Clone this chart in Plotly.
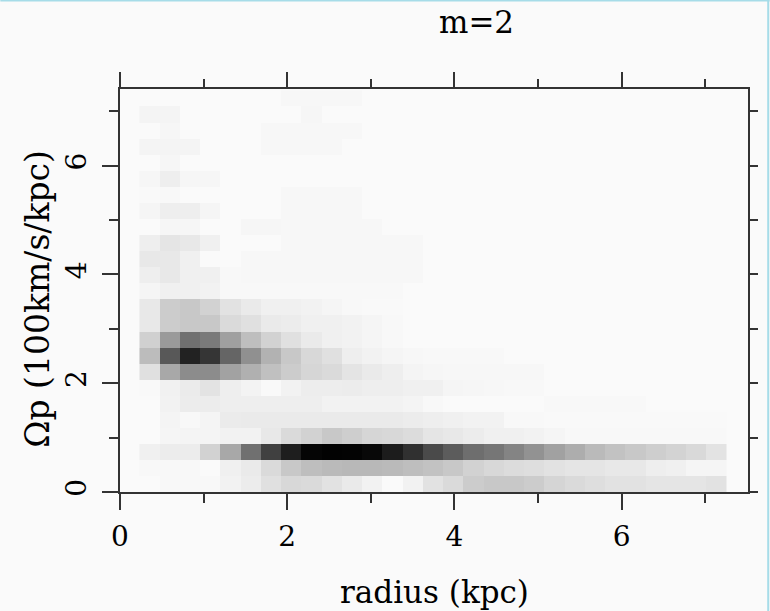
import plotly.graph_objects as go

# Heatmap grid: darkness (0 = background, 250 = black) per bin
# radius bins: 29 columns, first bin left edge ~0.233 kpc, width ~0.242 kpc
# pattern-speed bins: 25 rows from 0, height ~0.2954 (100 km/s/kpc)
radius_first_center = 0.354
radius_bin_width = 0.2421
omega_first_center = 0.1477
omega_bin_height = 0.2954

row_00 = [0, 2, 2, 2, 8, 14, 26, 34, 32, 24, 16, 8, 0, 8, 24, 32, 46, 50, 50, 46, 37, 32, 28, 24, 24, 21, 21, 21, 24]
row_01 = [2, 2, 2, 0, 10, 16, 32, 50, 60, 64, 66, 66, 64, 60, 56, 50, 40, 34, 30, 28, 24, 21, 21, 18, 18, 12, 10, 5, 5]
row_02 = [10, 14, 14, 40, 82, 138, 186, 220, 245, 248, 247, 242, 222, 202, 176, 158, 140, 132, 118, 104, 89, 77, 64, 56, 50, 44, 39, 33, 23]
row_03 = [0, 5, 6, 6, 8, 8, 18, 32, 40, 50, 44, 36, 34, 30, 21, 18, 14, 10, 10, 8, 5, 2, 2, 2, 2, 2, 2, 2, 2]
row_04 = [0, 6, 2, 6, 15, 16, 16, 16, 16, 16, 16, 16, 16, 14, 12, 10, 8, 8, 2, 2, 1, 1, 1, 1, 1, 1, 1, 1, 1]
row_05 = [0, 8, 14, 14, 12, 12, 12, 12, 12, 8, 8, 8, 8, 6, 2, 0, 0, 0, 0, 0, 2, 2, 2, 2, 2, 0, 0, 0, 0]
row_06 = [1, 9, 15, 23, 12, 7, 1, 8, 13, 13, 14, 12, 12, 10, 10, 5, 4, 3, 2, 2, 0, 0, 0, 0, 0, 0, 0, 0, 0]
row_07 = [26, 82, 110, 110, 88, 74, 58, 46, 36, 32, 22, 16, 12, 6, 4, 3, 3, 3, 3, 3, 0, 0, 0, 0, 0, 0, 0, 0, 0]
row_08 = [62, 162, 216, 197, 149, 106, 72, 50, 34, 26, 12, 8, 5, 3, 2, 2, 2, 2, 0, 0, 0, 0, 0, 0, 0, 0, 0, 0, 0]
row_09 = [42, 96, 138, 128, 90, 60, 40, 26, 16, 10, 8, 5, 2, 0, 0, 0, 0, 0, 0, 0, 0, 0, 0, 0, 0, 0, 0, 0, 0]
row_10 = [18, 46, 50, 50, 32, 26, 16, 14, 10, 10, 8, 5, 2, 0, 0, 0, 0, 0, 0, 0, 0, 0, 0, 0, 0, 0, 0, 0, 0]
row_11 = [18, 46, 50, 40, 24, 16, 10, 10, 8, 5, 2, 1, 1, 0, 0, 0, 0, 0, 0, 0, 0, 0, 0, 0, 0, 0, 0, 0, 0]
row_12 = [5, 10, 10, 8, 2, 2, 2, 2, 2, 2, 2, 2, 2, 0, 0, 0, 0, 0, 0, 0, 0, 0, 0, 0, 0, 0, 0, 0, 0]
row_13 = [12, 18, 10, 10, 2, 3, 3, 3, 3, 3, 3, 3, 3, 3, 0, 0, 0, 0, 0, 0, 0, 0, 0, 0, 0, 0, 0, 0, 0]
row_14 = [18, 18, 10, 0, 0, 3, 3, 3, 3, 3, 3, 3, 3, 3, 0, 0, 0, 0, 0, 0, 0, 0, 0, 0, 0, 0, 0, 0, 0]
row_15 = [12, 21, 18, 10, 0, 0, 0, 3, 3, 3, 3, 3, 3, 3, 0, 0, 0, 0, 0, 0, 0, 0, 0, 0, 0, 0, 0, 0, 0]
row_16 = [0, 4, 4, 0, 0, 4, 4, 3, 3, 3, 3, 3, 0, 0, 0, 0, 0, 0, 0, 0, 0, 0, 0, 0, 0, 0, 0, 0, 0]
row_17 = [5, 12, 12, 5, 0, 0, 0, 3, 3, 3, 3, 0, 0, 0, 0, 0, 0, 0, 0, 0, 0, 0, 0, 0, 0, 0, 0, 0, 0]
row_18 = [1, 2, 0, 0, 0, 0, 0, 3, 3, 3, 3, 0, 0, 0, 0, 0, 0, 0, 0, 0, 0, 0, 0, 0, 0, 0, 0, 0, 0]
row_19 = [4, 12, 4, 4, 0, 0, 0, 0, 0, 0, 0, 0, 0, 0, 0, 0, 0, 0, 0, 0, 0, 0, 0, 0, 0, 0, 0, 0, 0]
row_20 = [0, 4, 0, 0, 0, 0, 0, 0, 0, 0, 0, 0, 0, 0, 0, 0, 0, 0, 0, 0, 0, 0, 0, 0, 0, 0, 0, 0, 0]
row_21 = [6, 6, 6, 0, 0, 0, 3, 3, 3, 3, 0, 0, 0, 0, 0, 0, 0, 0, 0, 0, 0, 0, 0, 0, 0, 0, 0, 0, 0]
row_22 = [0, 4, 0, 0, 0, 0, 3, 3, 3, 3, 3, 0, 0, 0, 0, 0, 0, 0, 0, 0, 0, 0, 0, 0, 0, 0, 0, 0, 0]
row_23 = [6, 6, 0, 0, 0, 0, 0, 0, 4, 0, 0, 0, 0, 0, 0, 0, 0, 0, 0, 0, 0, 0, 0, 0, 0, 0, 0, 0, 0]
row_24 = [0, 0, 0, 0, 0, 0, 0, 3, 3, 3, 3, 0, 0, 0, 0, 0, 0, 0, 0, 0, 0, 0, 0, 0, 0, 0, 0, 0, 0]

z = [row_00, row_01, row_02, row_03, row_04, row_05, row_06, row_07, row_08,
     row_09, row_10, row_11, row_12, row_13, row_14, row_15, row_16, row_17,
     row_18, row_19, row_20, row_21, row_22, row_23, row_24]

x_tick_vals = [0, 2, 4, 6]
y_tick_vals = [0, 2, 4, 6]
x_range = [0, 7.51]
y_range = [0, 7.41]

title_text = "m=2"
x_title = "radius (kpc)"
y_title = "Ωp (100km/s/kpc)"

BG = "#fafafa"
AX = "#333333"
FONT = "DejaVu Serif"

fig = go.Figure()
fig.add_trace(go.Heatmap(
    z=z, x0=radius_first_center, dx=radius_bin_width,
    y0=omega_first_center, dy=omega_bin_height,
    colorscale=[[0, BG], [1, "#000000"]], zmin=0, zmax=250,
    showscale=False, hoverinfo="skip"))
fig.add_trace(go.Scatter(x=[], y=[], xaxis="x2", yaxis="y2",
                         showlegend=False, hoverinfo="skip"))

tick_font = dict(family=FONT, size=28, color="#000000")
label_font = dict(family=FONT, size=31, color="#000000")

fig.update_layout(
    width=770, height=611,
    margin=dict(l=120, r=22, t=89, b=119),
    paper_bgcolor=BG, plot_bgcolor=BG,
    showlegend=False,
    xaxis=dict(range=x_range, tickvals=x_tick_vals, ticks="outside",
               ticklen=16, tickwidth=2, tickcolor=AX,
               minor=dict(dtick=1, ticks="outside", ticklen=9, tickwidth=2, tickcolor=AX),
               showline=True, linewidth=2, linecolor=AX, mirror=True,
               showgrid=False, zeroline=False, tickfont=tick_font,
               ticklabelstandoff=2),
    yaxis=dict(range=y_range, tickvals=y_tick_vals, ticks="outside",
               ticklen=16, tickwidth=2, tickcolor=AX,
               minor=dict(dtick=1, ticks="outside", ticklen=9, tickwidth=2, tickcolor=AX),
               showline=True, linewidth=2, linecolor=AX, mirror=True,
               showgrid=False, zeroline=False, tickfont=tick_font,
               tickangle=-90, ticklabelstandoff=5),
    xaxis2=dict(range=x_range, overlaying="x", side="top", anchor="y",
                tickvals=x_tick_vals, ticks="outside", ticklen=16, tickwidth=2,
                tickcolor=AX, showticklabels=False,
                minor=dict(dtick=1, ticks="outside", ticklen=9, tickwidth=2, tickcolor=AX),
                showline=False, showgrid=False, zeroline=False),
    yaxis2=dict(range=y_range, overlaying="y", side="right", anchor="x",
                dtick=1, tick0=0, ticks="outside", ticklen=9, tickwidth=2,
                tickcolor=AX, showticklabels=False,
                showline=False, showgrid=False, zeroline=False),
)

fig.add_annotation(text=title_text, xref="paper", yref="paper",
                   x=0.567, y=1.167, xanchor="center", yanchor="middle",
                   showarrow=False, font=label_font)
fig.add_annotation(text=x_title, xref="paper", yref="paper",
                   x=0.5, y=-0.247, xanchor="center", yanchor="middle",
                   showarrow=False, font=label_font)
fig.add_annotation(text=y_title, xref="paper", yref="paper",
                   x=-0.1317, y=0.48, xanchor="center", yanchor="middle",
                   textangle=-90, showarrow=False,
                   font=dict(family=FONT, size=33, color="#000000"))

# thin light-cyan frame of the original screenshot (top and right edges)
fig.add_shape(type="line", xref="paper", yref="paper",
              x0=-0.1906, x1=1.0345, y0=1.2193, y1=1.2193,
              line=dict(color="#a6dce8", width=2))
fig.add_shape(type="line", xref="paper", yref="paper",
              x0=1.0322, x1=1.0322, y0=-0.30, y1=1.23,
              line=dict(color="#a6dce8", width=2))

fig.write_html("out.html")
